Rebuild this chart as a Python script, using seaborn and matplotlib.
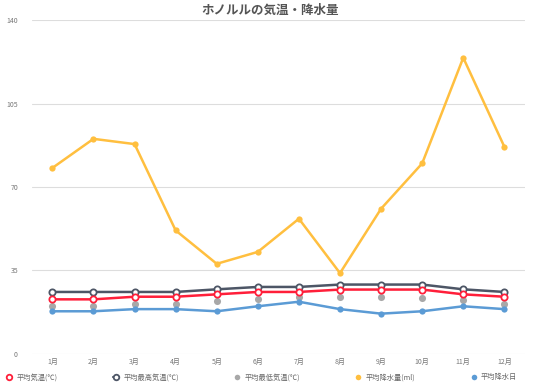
import matplotlib

matplotlib.use("Agg")
import matplotlib.pyplot as plt
from matplotlib.lines import Line2D
import seaborn as sns

MONTHS = [f"{m}月" for m in range(1, 13)]
avg_temp = [22.9, 22.9, 24.0, 24.0, 25.0, 26.0, 26.0, 27.0, 27.0, 27.0, 25.0, 24.0]
avg_high = [26.0, 26.0, 26.0, 26.0, 27.1, 28.1, 28.1, 29.1, 29.1, 29.1, 27.1, 26.0]
avg_low = [20.1, 20.1, 20.9, 20.9, 22.1, 22.9, 23.9, 23.9, 23.9, 23.6, 22.7, 20.8]
precip = [78.0, 90.2, 88.0, 51.8, 37.8, 42.8, 56.7, 33.9, 60.9, 79.9, 124.2, 86.9]
rain_days = [17.9, 17.9, 18.8, 18.8, 17.9, 20.0, 21.9, 18.8, 16.9, 17.9, 20.0, 18.8]

LABELS = ["平均気温(℃)", "平均最高気温(℃)", "平均最低気温(℃)", "平均降水量(ml)", "平均降水日"]
COLORS = ["#ff1f3a", "#4d5666", "#a8a8a8", "#ffbf3f", "#5b9bd5"]

sns.set_style("white")
plt.rcParams["font.family"] = ["Noto Sans CJK JP", "DejaVu Sans"]

fig = plt.figure(figsize=(5.4, 3.86), dpi=100)
ax = fig.add_axes([0.059, 0.083, 0.913, 0.865])

sns.lineplot(x=MONTHS, y=precip, sort=False, color=COLORS[3], linewidth=1.8,
             marker="o", markersize=4.5, markeredgewidth=0, ax=ax)
sns.lineplot(x=MONTHS, y=avg_high, sort=False, color=COLORS[1], linewidth=1.8,
             marker="o", markersize=4.5, markerfacecolor="white",
             markeredgecolor=COLORS[1], markeredgewidth=1.3, ax=ax)
sns.lineplot(x=MONTHS, y=avg_temp, sort=False, color=COLORS[0], linewidth=1.8,
             marker="o", markersize=4.5, markerfacecolor="white",
             markeredgecolor=COLORS[0], markeredgewidth=1.3, ax=ax)
sns.scatterplot(x=MONTHS, y=avg_low, color=COLORS[2], s=26, linewidth=0, ax=ax)
sns.lineplot(x=MONTHS, y=rain_days, sort=False, color=COLORS[4], linewidth=1.8,
             marker="o", markersize=4.5, markeredgewidth=0, ax=ax)

ax.set_xlim(-0.5, 11.5)
ax.set_ylim(0, 140)
ax.set_yticks([0, 35, 70, 105, 140])
ax.yaxis.grid(True, color="#dddddd", linewidth=0.8)
ax.set_axisbelow(True)
for side in ["top", "right", "left", "bottom"]:
    ax.spines[side].set_visible(False)
ax.tick_params(axis="both", length=0, labelsize=5, labelcolor="#777777")
ax.tick_params(axis="x", pad=3)
ax.tick_params(axis="y", pad=10)

fig.suptitle("ホノルルの気温・降水量", x=0.5, y=0.99, fontsize=9,
             fontweight="bold", color="#555555")

handles = []
for i, (label, color) in enumerate(zip(LABELS, COLORS)):
    if i in (0, 1):
        h = Line2D([], [], color=color, linewidth=1.5, marker="o", markersize=4,
                   markerfacecolor="white", markeredgecolor=color, markeredgewidth=1.3)
    else:
        h = Line2D([], [], color=color, linewidth=0, marker="o", markersize=4,
                   markeredgewidth=0)
    handles.append(h)
fig.legend(handles, LABELS, loc="lower left", bbox_to_anchor=(0.0, -0.005, 0.97, 0.04),
           ncol=5, mode="expand", frameon=False, fontsize=5.2, handlelength=0.8,
           handletextpad=0.6, labelcolor="#666666")

fig.savefig("out.png", dpi=100)
plt.close(fig)
